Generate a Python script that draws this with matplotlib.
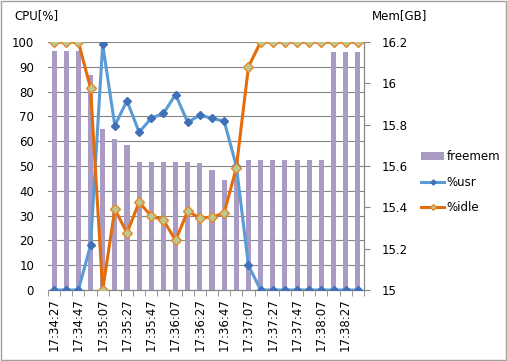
import matplotlib.pyplot as plt
from matplotlib.patches import Rectangle

# 10 s samples, 17:34:27 .. 17:38:37
times = ["17:34:27", "17:34:37", "17:34:47", "17:34:57", "17:35:07", "17:35:17",
         "17:35:27", "17:35:37", "17:35:47", "17:35:57", "17:36:07", "17:36:17",
         "17:36:27", "17:36:37", "17:36:47", "17:36:57", "17:37:07", "17:37:17",
         "17:37:27", "17:37:37", "17:37:47", "17:37:57", "17:38:07", "17:38:17",
         "17:38:27", "17:38:37"]

usr = [0, 0, 0, 18, 99, 66.3, 76.3, 63.6, 69.3, 71.2, 78.8, 67.6, 70.5, 69.2,
       68.1, 50, 9.9, 0, 0, 0, 0, 0, 0, 0, 0, 0]

idle = [100, 100, 100, 81.4, 0, 32.6, 23, 35.4, 29.8, 28.2, 20, 31.8, 29, 29.4,
        31, 49.3, 90, 100, 100, 100, 100, 100, 100, 100, 100, 100]

freemem = [16.155, 16.155, 16.155, 16.04, 15.78, 15.73, 15.70, 15.62, 15.62,
           15.618, 15.62, 15.62, 15.614, 15.58, 15.53, 15.63, 15.63, 15.63,
           15.63, 15.63, 15.63, 15.63, 15.63, 16.15, 16.15, 16.15]

cpu_ticks = list(range(0, 101, 10))
mem_ticks = [15, 15.2, 15.4, 15.6, 15.8, 16, 16.2]
mem_labels = ["15", "15.2", "15.4", "15.6", "15.8", "16", "16.2"]

plt.rcParams['font.family'] = 'DejaVu Sans'
plt.rcParams['font.size'] = 8.5

fig = plt.figure(figsize=(5.07, 3.61), dpi=100)
ax = fig.add_axes([0.0947, 0.1967, 0.623, 0.687])
ax2 = ax.twinx()
ax.set_zorder(ax2.get_zorder() + 1)
ax.patch.set_visible(False)

x = list(range(len(times)))
grid_col = '#868686'

# bars (right axis) behind, grid drawn on the bar axes so it stays behind too
ax2.bar(x, freemem, width=0.42, color='#A99BC3', zorder=2, label='freemem')
for v in cpu_ticks:
    ax2.plot([0, 1], [v, v], transform=ax.get_yaxis_transform(),
             color=grid_col, lw=0.8, zorder=1)

ax.plot(x, usr, color='#5B9BD5', lw=2.2, marker='D', markersize=4.3,
        markerfacecolor='#3F70B8', markeredgecolor='#3F70B8', label='%usr',
        zorder=3)
ax.plot(x, idle, color='#E46C0A', lw=2.2, marker='D', markersize=4.8,
        markerfacecolor='#BCC98E', markeredgecolor='#E4892E', label='%idle',
        zorder=4)

ax.set_xlim(-0.5, len(times) - 0.5)
ax.set_ylim(0, 100)
ax2.set_ylim(15, 16.2)

ax.set_yticks(cpu_ticks)
ax.tick_params(axis='y', length=0, pad=10)
ax2.set_yticks(mem_ticks)
ax2.set_yticklabels(mem_labels)
ax2.tick_params(axis='y', length=4, color=grid_col, pad=9)

ax.set_xticks([i - 0.5 for i in range(len(times) + 1)], minor=True)
ax.set_xticks(x[::2])
ax.set_xticklabels(times[::2], rotation=90)
ax.tick_params(axis='x', which='major', length=0, pad=6)
ax.tick_params(axis='x', which='minor', length=4, color=grid_col)

for a in (ax, ax2):
    for s in ('top', 'left'):
        a.spines[s].set_visible(False)
    a.spines['bottom'].set_color(grid_col)
    a.spines['right'].set_color(grid_col)

fig.text(0.028, 0.958, 'CPU[%]', ha='left', va='center')
fig.text(0.734, 0.958, 'Mem[GB]', ha='left', va='center')

h1, l1 = ax2.get_legend_handles_labels()
h2, l2 = ax.get_legend_handles_labels()
fig.legend(h1 + h2, l1 + l2, loc='center left', bbox_to_anchor=(0.81, 0.495),
           frameon=False, handlelength=1.9, handletextpad=0.25,
           labelspacing=1.05, markerscale=0.6)

fig.patches.append(Rectangle((0.001, 0.002), 0.997, 0.995, transform=fig.transFigure,
                             fill=False, edgecolor='#A0A0A0', lw=1))

fig.savefig('out.png', dpi=100)
